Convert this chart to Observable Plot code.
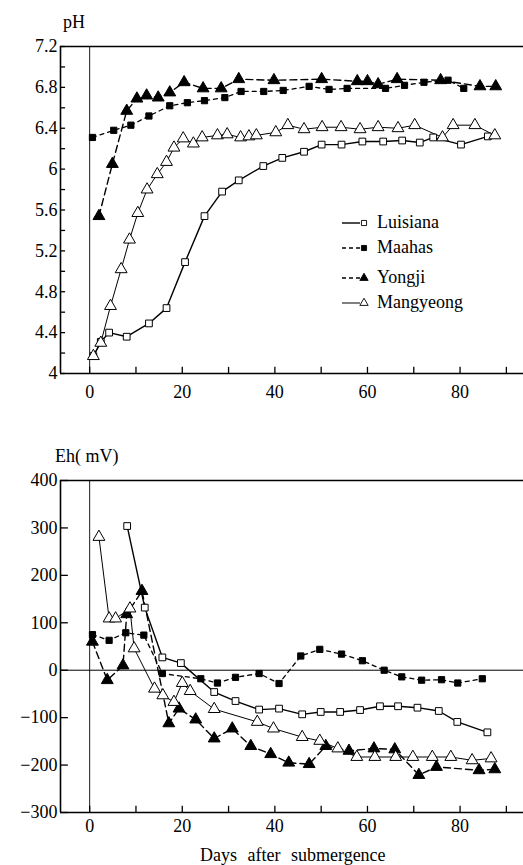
<!DOCTYPE html>
<html><head><meta charset="utf-8">
<script src="https://cdn.jsdelivr.net/npm/d3@7"></script>
<script src="https://cdn.jsdelivr.net/npm/@observablehq/plot@0.6"></script>
<style>
body{margin:0;background:#fff;}
#wrap{position:relative;width:523px;height:865px;overflow:hidden;background:#fff;font-family:"Liberation Serif","Times New Roman",Times,Tinos,"Noto Serif","DejaVu Serif","FreeSerif",serif;color:#000;}
.lbl{position:absolute;font-size:18px;line-height:20px;white-space:nowrap;}
.leg{position:absolute;left:341px;font-size:18px;line-height:20px;}
.leg div{position:absolute;left:0;height:20px;white-space:nowrap;}
.leg svg{position:absolute;left:0;top:2px;}
.leg span{position:absolute;left:36px;top:0;}
</style></head>
<body><div id="wrap"></div>
<script>
// ---- Tick values ----
const dayTicks = [0, 20, 40, 60, 80];
const dayMinorTicks = [0, 10, 20, 30, 40, 50, 60, 70, 80, 90];
const phTicks = [4, 4.4, 4.8, 5.2, 5.6, 6, 6.4, 6.8, 7.2];
const phMinorTicks = [4, 4.2, 4.4, 4.6, 4.8, 5, 5.2, 5.4, 5.6, 5.8, 6, 6.2, 6.4, 6.6, 6.8, 7, 7.2];
const ehTicks = [-300, -200, -100, 0, 100, 200, 300, 400];
const seriesNames = ["Luisiana", "Maahas", "Yongji", "Mangyeong"];

// ---- pH data ----
const phLuisianaDay = [0.8,2.4,4.2,8,12.8,16.6,20.6,24.8,28.6,32.2,37.5,41.6,46.3,50.1,54.4,58.9,63.4,67.5,71.3,74.2,80.2,86];
const phLuisiana    = [4.17,4.31,4.40,4.36,4.49,4.64,5.09,5.54,5.78,5.89,6.03,6.11,6.17,6.24,6.24,6.27,6.27,6.28,6.26,6.31,6.24,6.32];
const phMaahasDay = [0.6,5.2,8.9,12.8,17.3,21.1,24.8,29.2,32.7,37.6,41.8,47.4,51.7,55.6,63.9,68,72.2,77.4,80.8];
const phMaahas    = [6.31,6.38,6.43,6.52,6.62,6.65,6.67,6.70,6.76,6.76,6.77,6.81,6.78,6.79,6.79,6.82,6.85,6.87,6.79];
const phYongjiDay = [2,4.9,8,10.2,12.3,14.8,17.3,20.4,24.5,28.4,32.2,39.8,50.1,57.8,60,62.3,66.4,75.8,84.3,87.7];
const phYongji    = [5.54,6.05,6.57,6.69,6.72,6.70,6.75,6.85,6.79,6.79,6.88,6.87,6.88,6.86,6.86,6.83,6.88,6.87,6.81,6.81];
const phMangyeongDay = [0.8,2.4,4.5,6.8,8.6,10.4,12.4,14.6,16.6,18.2,20.2,22.4,24.3,27.6,29.7,32.6,34.4,36,40.2,42.8,46.3,50.2,54.3,58.4,62.3,66.6,70.2,76.2,78.5,83.2,87.5];
const phMangyeong    = [4.17,4.30,4.66,5.02,5.31,5.57,5.80,5.95,6.07,6.21,6.30,6.25,6.31,6.33,6.34,6.31,6.32,6.33,6.36,6.43,6.39,6.41,6.41,6.39,6.41,6.40,6.43,6.31,6.43,6.43,6.33];

// ---- Eh data ----
const ehLuisianaDay = [8.1,11.9,15.7,19.7,26.9,31.5,36.6,40.9,45.9,49.9,54.1,58.4,62.7,66.6,70.8,75.4,79.4,85.9];
const ehLuisiana    = [304,132,27,15,-46,-65,-83,-81,-93,-88,-88,-84,-76,-76,-79,-86,-109,-131];
const ehMaahasDay = [0.6,4.2,7.8,11.7,15.7,24,27.6,31.5,36.6,40.9,45.6,49.7,54.4,58.9,63.6,67.4,71.7,76,79.5,84.8];
const ehMaahas    = [75,63,79,74,-7,-18,-27,-15,-7,-28,30,44,34,20,0,-14,-21,-20,-27,-18];
const ehYongjiDay = [0.6,3.8,7.2,8,11.3,17.1,19.3,22.9,26.9,30.8,34.8,39.1,43,47.4,51,56,61.4,65.9,71.1,74.9,84.1,87.5];
const ehYongji    = [60,-21,10,118,167,-112,-81,-104,-144,-123,-160,-177,-195,-198,-160,-170,-165,-167,-221,-204,-211,-209];
const ehMangyeongDay = [2,4.2,5.6,8.7,9.6,14,15.8,18.2,20,21.7,26.9,36.2,39.7,45.9,49.7,53.6,57.7,61.6,66.1,69.8,74,78,82.6,86.7];
const ehMangyeong    = [281,109,109,130,46,-39,-53,-67,-27,-44,-82,-109,-123,-141,-149,-165,-183,-183,-183,-183,-183,-183,-190,-186];

// ---- styles per series ----
const style = {
  Luisiana:  {symbol: "square",   fill: "white", dash: null,  sw: 1.4, r: 3.8},
  Maahas:    {symbol: "square",   fill: "black", dash: "4,4", sw: 1.3, r: 3.5},
  Yongji:    {symbol: "triangle", fill: "black", dash: "7,4", sw: 1.4, r: 4.4},
  Mangyeong: {symbol: "triangle", fill: "white", dash: null,  sw: 1.0, r: 4.4}
};

function rows(name, days, vals) { return days.map((d, i) => ({series: name, day: d, v: vals[i]})); }
const phData = {
  Luisiana: rows("Luisiana", phLuisianaDay, phLuisiana),
  Maahas: rows("Maahas", phMaahasDay, phMaahas),
  Yongji: rows("Yongji", phYongjiDay, phYongji),
  Mangyeong: rows("Mangyeong", phMangyeongDay, phMangyeong)
};
const ehData = {
  Luisiana: rows("Luisiana", ehLuisianaDay, ehLuisiana),
  Maahas: rows("Maahas", ehMaahasDay, ehMaahas),
  Yongji: rows("Yongji", ehYongjiDay, ehYongji),
  Mangyeong: rows("Mangyeong", ehMangyeongDay, ehMangyeong)
};

const xDomain = [-6.3, 93.7];
const FONT = "'Liberation Serif', 'Times New Roman', Times, Tinos, 'Noto Serif', 'DejaVu Serif', FreeSerif, serif";

function seriesMarks(data) {
  const m = [];
  for (const name of seriesNames) {
    const s = style[name];
    m.push(Plot.line(data[name], {x: "day", y: "v", stroke: "black", strokeWidth: s.sw, strokeDasharray: s.dash}));
  }
  for (const name of seriesNames) {
    const s = style[name];
    m.push(Plot.dot(data[name], {x: "day", y: "v", symbol: s.symbol, r: s.r, fill: s.fill, stroke: "black", strokeWidth: 1}));
  }
  return m;
}

const wrap = document.getElementById("wrap");

// ---- top chart: pH ----
const yPh = [4, 7.2];
const phChart = Plot.plot({
  width: 523, height: 410,
  marginTop: 46, marginBottom: 37, marginLeft: 60, marginRight: 0,
  style: {fontFamily: FONT, fontSize: "18px", background: "white", color: "black", overflow: "visible"},
  x: {domain: xDomain, ticks: dayTicks, tickSize: 0, tickPadding: 12, label: null},
  y: {domain: yPh, ticks: phTicks, tickSize: 0, tickPadding: 3, label: null, tickFormat: d => d3.format("~g")(d)},
  marks: [
    Plot.ruleX([0], {stroke: "black", strokeWidth: 0.9}),
    Plot.ruleY(phMinorTicks, {y: d => d, x1: xDomain[0], x2: xDomain[0] + 1.1, stroke: "black", strokeWidth: 1.3}),
    Plot.ruleX(dayMinorTicks, {x: d => d, y1: yPh[0], y2: yPh[0] + 0.06, stroke: "black", strokeWidth: 1.3}),
    Plot.ruleY([yPh[1]], {stroke: "black", strokeWidth: 1.6}),
    Plot.ruleY([yPh[0]], {stroke: "black", strokeWidth: 1.6}),
    Plot.ruleX([xDomain[0]], {stroke: "black", strokeWidth: 1.6}),
    ...seriesMarks(phData)
  ]
});
phChart.style.position = "absolute"; phChart.style.left = "0px"; phChart.style.top = "0px";
wrap.appendChild(phChart);

// ---- bottom chart: Eh ----
const yEh = [-300, 400];
const ehChart = Plot.plot({
  width: 523, height: 445,
  marginTop: 60, marginBottom: 53, marginLeft: 60, marginRight: 0,
  style: {fontFamily: FONT, fontSize: "18px", background: "white", color: "black", overflow: "visible"},
  x: {domain: xDomain, ticks: dayTicks, tickSize: 0, tickPadding: 7, label: null},
  y: {domain: yEh, ticks: ehTicks, tickSize: 0, tickPadding: 3, label: null, tickFormat: d => d < 0 ? "\u2212" + Math.abs(d) : String(d)},
  marks: [
    Plot.ruleX([0], {stroke: "black", strokeWidth: 0.9}),
    Plot.ruleY([0], {stroke: "black", strokeWidth: 1}),
    Plot.ruleY(ehTicks, {y: d => d, x1: xDomain[0], x2: xDomain[0] + 1.7, stroke: "black", strokeWidth: 1.3}),
    Plot.ruleX(dayMinorTicks, {x: d => d, y1: yEh[0], y2: yEh[0] + 13, stroke: "black", strokeWidth: 1.3}),
    Plot.ruleY([yEh[1]], {stroke: "black", strokeWidth: 1.6}),
    Plot.ruleY([yEh[0]], {stroke: "black", strokeWidth: 1.6}),
    Plot.ruleX([xDomain[0]], {stroke: "black", strokeWidth: 1.6}),
    ...seriesMarks(ehData)
  ]
});
ehChart.style.position = "absolute"; ehChart.style.left = "0px"; ehChart.style.top = "420px";
wrap.appendChild(ehChart);

// ---- text labels ----
function addLabel(text, left, topPx) {
  const d = document.createElement("div");
  d.className = "lbl"; d.textContent = text;
  d.style.left = left + "px"; d.style.top = topPx + "px";
  wrap.appendChild(d);
}
addLabel("pH", 63, 12);
addLabel("Eh( mV)", 55, 446);
const xl = document.createElement("div");
xl.className = "lbl"; xl.textContent = "Days after submergence";
xl.style.left = "200px"; xl.style.top = "845px"; xl.style.wordSpacing = "6px";
wrap.appendChild(xl);

// ---- legend ----
const leg = document.createElement("div");
leg.className = "leg"; leg.style.top = "0px";
const legY = [212, 237, 267, 292];
seriesNames.forEach((name, i) => {
  const s = style[name];
  const row = document.createElement("div");
  row.style.top = legY[i] + "px";
  const ns = "http://www.w3.org/2000/svg";
  const svg = document.createElementNS(ns, "svg");
  svg.setAttribute("width", 30); svg.setAttribute("height", 16);
  const ln = document.createElementNS(ns, "line");
  ln.setAttribute("x1", 1); ln.setAttribute("x2", 19); ln.setAttribute("y1", 9); ln.setAttribute("y2", 9);
  ln.setAttribute("stroke", "black"); ln.setAttribute("stroke-width", s.sw);
  if (s.dash) ln.setAttribute("stroke-dasharray", "4,3");
  svg.appendChild(ln);
  const p = document.createElementNS(ns, "path");
  const sym = s.symbol === "square" ? d3.symbolSquare : d3.symbolTriangle;
  p.setAttribute("d", d3.symbol(sym, s.symbol === "square" ? 26 : 30)());
  p.setAttribute("transform", "translate(23,9)");
  p.setAttribute("fill", s.fill); p.setAttribute("stroke", "black"); p.setAttribute("stroke-width", 0.9);
  svg.appendChild(p);
  row.appendChild(svg);
  const t = document.createElement("span");
  t.textContent = name;
  row.appendChild(t);
  leg.appendChild(row);
});
wrap.appendChild(leg);
</script></body></html>
